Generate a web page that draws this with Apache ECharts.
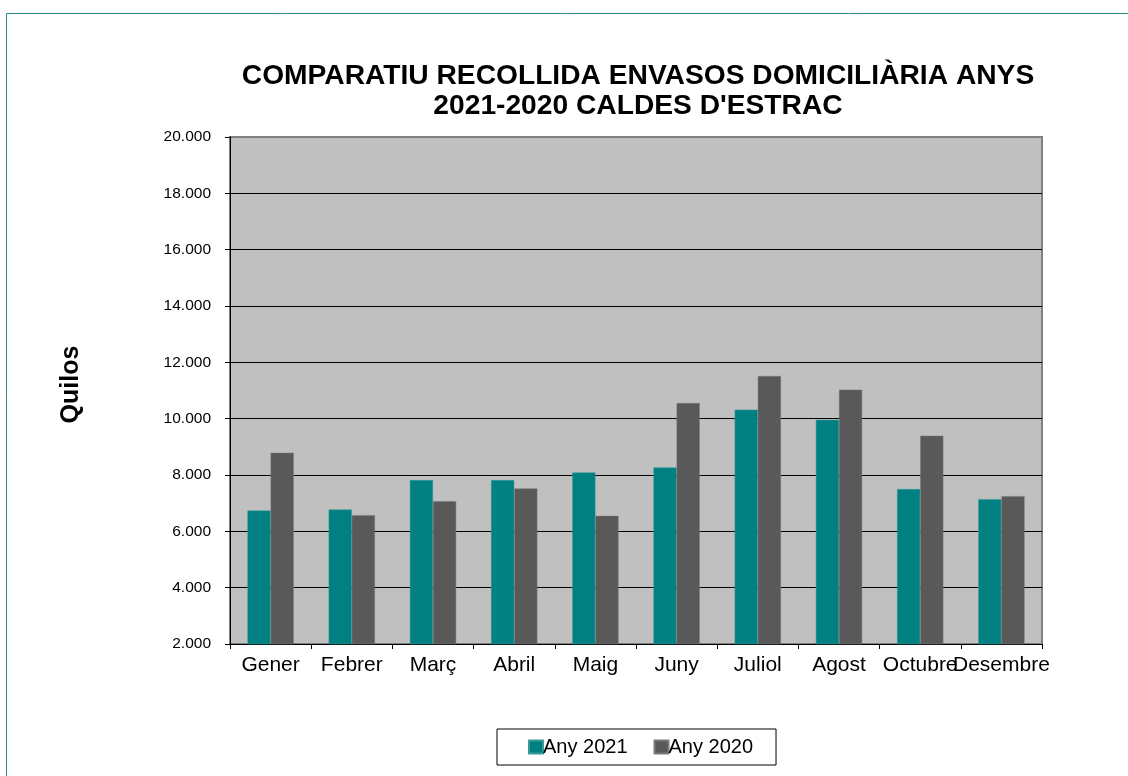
<!DOCTYPE html>
<html>
<head>
<meta charset="utf-8">
<script src="https://cdn.jsdelivr.net/npm/echarts@6/dist/echarts.min.js"></script>
<style>
  html, body { margin: 0; padding: 0; background: #fff; }
  #chart { width: 1128px; height: 776px; }
</style>
</head>
<body>
<div id="chart"></div>
<script>
const months = ['Gener', 'Febrer', 'Març', 'Abril', 'Maig', 'Juny', 'Juliol', 'Agost', 'Octubre', 'Desembre']
const any2021 = [6740, 6775, 7820, 7820, 8090, 8270, 10320, 9960, 7500, 7140]
const any2020 = [8790, 6575, 7070, 7520, 6550, 10555, 11515, 11030, 9395, 7250]
const seriesNames = ['Any 2021', 'Any 2020']

// 12000 -> "12.000"
const fmt = (v) => String(v).replace(/\B(?=(\d{3})+(?!\d))/g, '.')

// black gridlines, the top one stays grey like the plot frame
const gridColors = ['#000', '#000', '#000', '#000', '#000', '#000', '#000', '#000', '#000', '#808080']

const chart = echarts.init(document.getElementById('chart'))
const font = '"Liberation Sans", Arial, sans-serif'

chart.setOption({
  animation: false,
  textStyle: { fontFamily: font },
  color: ['#008080', '#595959'],
  graphic: [
    {
      type: 'rect',
      shape: { x: 6.5, y: 13.5, width: 1200, height: 900 },
      style: { fill: 'none', stroke: '#2a8a8a', lineWidth: 1 },
      silent: true,
    },
  ],
  title: {
    text: 'COMPARATIU RECOLLIDA ENVASOS DOMICILIÀRIA ANYS\n2021-2020 CALDES D\'ESTRAC',
    left: 633,
    top: 56,
    textAlign: 'center',
    textStyle: { fontFamily: font, fontSize: 28.2, fontWeight: 'bold', color: '#000', lineHeight: 30 },
  },
  legend: {
    left: 497,
    top: 729,
    padding: [8, 23, 8, 31],
    borderColor: '#000',
    borderWidth: 1,
    itemWidth: 14,
    itemHeight: 13,
    itemGap: 26,
    icon: 'rect',
    data: seriesNames,
    textStyle: { fontFamily: font, fontSize: 20, color: '#000', padding: [0, 0, 0, -5] },
  },
  grid: {
    left: 230,
    right: 86,
    top: 137,
    bottom: 132,
    show: true,
    backgroundColor: '#c0c0c0',
    borderColor: '#808080',
    borderWidth: 2,
  },
  xAxis: {
    type: 'category',
    data: months,
    axisLine: { lineStyle: { color: '#000', width: 1 } },
    axisTick: { show: true, length: 5, lineStyle: { color: '#000' } },
    axisLabel: { color: '#000', fontSize: 21, margin: 11, interval: 0, hideOverlap: false, fontFamily: font },
  },
  yAxis: {
    type: 'value',
    min: 2000,
    max: 20000,
    interval: 2000,
    name: 'Quilos',
    nameLocation: 'middle',
    nameGap: 146,
    nameRotate: 90,
    nameTextStyle: { fontFamily: font, fontSize: 25, fontWeight: 'bold', color: '#000', padding: [0, 0, 0, 12] },
    axisLine: { show: true, lineStyle: { color: '#000', width: 1 } },
    axisTick: { show: true, length: 5, lineStyle: { color: '#000' } },
    axisLabel: { color: '#000', fontSize: 15.5, margin: 19, formatter: fmt, fontFamily: font },
    splitLine: { show: true, lineStyle: { color: gridColors, width: 1 } },
  },
  series: [
    {
      name: seriesNames[0],
      type: 'bar',
      data: any2021,
      barGap: '0%',
      barCategoryGap: '43%',
      itemStyle: { color: '#008080', borderColor: '#3a9a9a', borderWidth: 0.5 },
    },
    {
      name: seriesNames[1],
      type: 'bar',
      data: any2020,
      barGap: '0%',
      barCategoryGap: '43%',
      itemStyle: { color: '#595959', borderColor: '#7a7a7a', borderWidth: 0.5 },
    },
  ],
})
</script>
</body>
</html>
